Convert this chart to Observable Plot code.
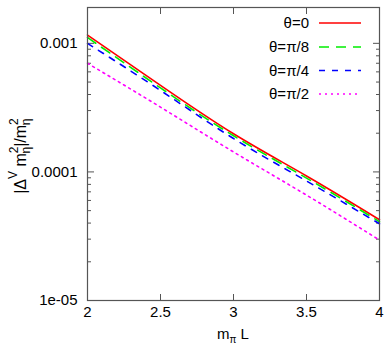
<!DOCTYPE html>
<html><head><meta charset="utf-8">
<script src="https://cdn.jsdelivr.net/npm/d3@7"></script>
<script src="https://cdn.jsdelivr.net/npm/@observablehq/plot@0.6"></script>
<style>
body{margin:0;background:#fff}
svg{font-family:"Liberation Sans",Arial,Helvetica,sans-serif}
</style>
</head><body><div id="chart"></div>
<script>
const mL = [2, 2.5, 3, 3.5, 4];
const theta0   = [1.16e-3, 4.71e-4, 1.98e-4, 9.3e-5, 4.25e-5];
const thetaPi8 = [1.11e-3, 4.50e-4, 1.91e-4, 8.95e-5, 4.10e-5];
const thetaPi4 = [1.00e-3, 4.30e-4, 1.82e-4, 8.5e-5, 3.95e-5];
const thetaPi2 = [7.00e-4, 3.19e-4, 1.43e-4, 6.6e-5, 2.95e-5];
const seriesNames = ["θ=0", "θ=π/8", "θ=π/4", "θ=π/2"];
const seriesValues = [theta0, thetaPi8, thetaPi4, thetaPi2];
const seriesColors = ["#ff0000", "#00ee00", "#0000ff", "#ff00ff"];
const seriesDash = [null, "10,7", "6,7", "2,4"];
const xTicks = [2, 2.5, 3, 3.5, 4];
const xTickLabels = ["2", "2.5", "3", "3.5", "4"];
const yTicks = [1e-5, 1e-4, 1e-3];
const yTickLabels = ["1e-05", "0.0001", "0.001"];
const yMinor = [];
[1e-5, 1e-4, 1e-3].forEach(d => { for (let k = 2; k <= 9; k++) { const v = d * k; if (v <= 0.0019) yMinor.push(v); } });

const rows = [];
seriesNames.forEach((s, i) => mL.forEach((x, j) => rows.push({x, y: seriesValues[i][j], s})));

const frameColor = "#555";
const lineMarks = seriesNames.map((s, i) => Plot.line(rows.filter(r => r.s === s), {
  x: "x", y: "y", stroke: seriesColors[i], strokeWidth: 1.6,
  strokeDasharray: seriesDash[i] || undefined, curve: "natural"
}));

const plot = Plot.plot({
  width: 385, height: 348,
  marginLeft: 87, marginRight: 6, marginTop: 7, marginBottom: 48,
  style: {fontSize: "15px", fontFamily: "'Liberation Sans', Arial, sans-serif", background: "white", color: "#000"},
  x: {domain: [2, 4]},
  y: {type: "log", domain: [1e-5, 0.0019]},
  marks: [
    Plot.axisX({ticks: xTicks, tickSize: -6, tickFormat: () => "", label: null, stroke: frameColor}),
    Plot.axisX({anchor: "top", ticks: xTicks, tickSize: -6, tickFormat: () => "", label: null, stroke: frameColor}),
    Plot.axisX({ticks: xTicks, tickSize: 0, tickPadding: 6, tickFormat: d => xTickLabels[xTicks.indexOf(d)], label: null, fill: "#000"}),
    Plot.axisY({ticks: yTicks, tickSize: -7, tickFormat: () => "", label: null, stroke: frameColor}),
    Plot.axisY({anchor: "right", ticks: yTicks, tickSize: -7, tickFormat: () => "", label: null, stroke: frameColor}),
    Plot.axisY({ticks: yMinor, tickSize: -4, tickFormat: () => "", label: null, stroke: frameColor}),
    Plot.axisY({anchor: "right", ticks: yMinor, tickSize: -4, tickFormat: () => "", label: null, stroke: frameColor}),
    Plot.axisY({ticks: yTicks, tickSize: 0, tickPadding: 10, tickFormat: d => yTickLabels[yTicks.indexOf(d)], label: null, fill: "#000"}),
    ...lineMarks,
    Plot.frame({stroke: frameColor, strokeWidth: 1.2})
  ]
});

const svg = d3.select(plot);
// Legend
const legY = [23, 47, 70.5, 94];
seriesNames.forEach((s, i) => {
  svg.append("text").attr("x", 309).attr("y", legY[i]).attr("dy", "0.35em")
    .attr("text-anchor", "end").attr("font-size", 15).attr("fill", "#000").text(s);
  const ln = svg.append("line").attr("x1", 319).attr("x2", 361).attr("y1", legY[i]).attr("y2", legY[i])
    .attr("stroke", seriesColors[i]).attr("stroke-width", 1.6);
  if (seriesDash[i]) ln.attr("stroke-dasharray", seriesDash[i]);
});
// x label
const xl = svg.append("text").attr("x", 233).attr("y", 339).attr("text-anchor", "middle")
  .attr("font-size", 15).attr("fill", "#000");
xl.append("tspan").text("m");
xl.append("tspan").attr("font-size", 10).attr("dy", 4).text("π");
xl.append("tspan").attr("dy", -4).text(" L");
// y label
const yl = svg.append("text").attr("transform", "translate(25.5,156) rotate(-90)")
  .attr("text-anchor", "middle").attr("font-size", 16).attr("fill", "#000");
yl.append("tspan").text("|Δ");
yl.append("tspan").attr("font-size", 12).attr("dy", -9).text("V");
yl.append("tspan").attr("dy", 9).text(" m");
yl.append("tspan").attr("font-size", 12).attr("dy", -8).text("2");
yl.append("tspan").attr("font-size", 12).attr("dx", -7).attr("dy", 12).text("η");
yl.append("tspan").attr("dy", -4).text("|/m");
yl.append("tspan").attr("font-size", 12).attr("dy", -8).text("2");
yl.append("tspan").attr("font-size", 12).attr("dx", -7).attr("dy", 12).text("η");

document.getElementById("chart").appendChild(plot);
</script>
</body></html>
